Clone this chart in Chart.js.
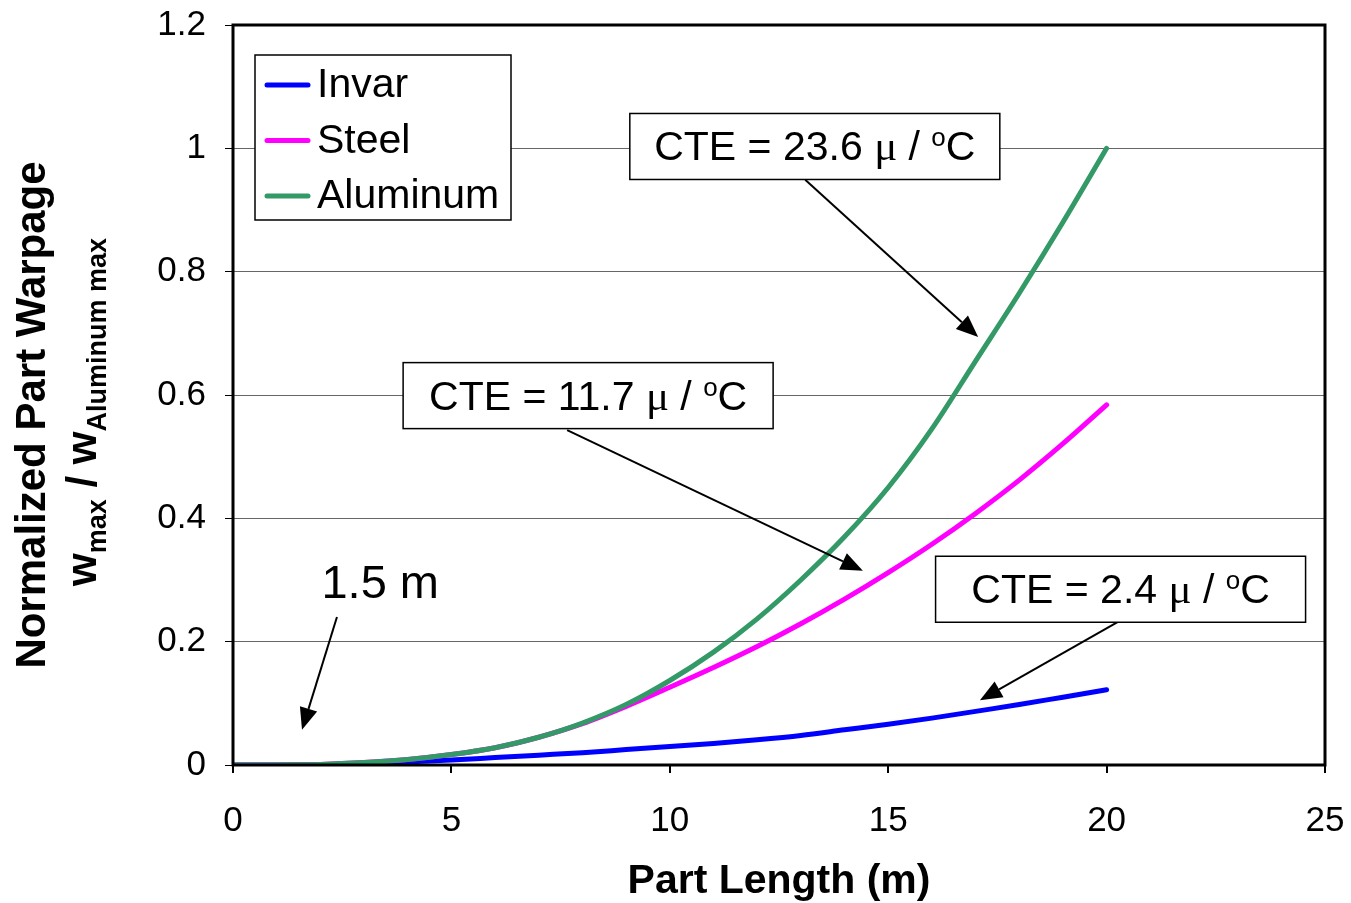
<!DOCTYPE html>
<html>
<head>
<meta charset="utf-8">
<script src="https://cdn.jsdelivr.net/npm/chart.js@4.4.1/dist/chart.umd.min.js"></script>
<style>
  html, body { margin: 0; padding: 0; background: #fff; }
  #wrap { width: 1351px; height: 903px; }
</style>
</head>
<body>
<div id="wrap"><canvas id="warpChart"></canvas></div>
<script>
// Part length (m) and normalized warpage per material
const lengths  = [0, 1, 2, 3, 4, 5, 6, 7, 8, 9, 10, 11, 12, 13, 14, 15, 16, 17, 18, 19, 20];
const invar    = [0, 0, 0.0005, 0.002, 0.005, 0.008, 0.012, 0.016, 0.020, 0.025, 0.030, 0.035, 0.041, 0.048, 0.057, 0.066, 0.076, 0.087, 0.098, 0.110, 0.122];
const steel    = [0, 0.0002, 0.001, 0.004, 0.009, 0.017, 0.028, 0.045, 0.067, 0.095, 0.126, 0.158, 0.192, 0.229, 0.269, 0.312, 0.358, 0.408, 0.462, 0.521, 0.584];
const aluminum = [0, 0.0002, 0.001, 0.004, 0.009, 0.017, 0.028, 0.045, 0.068, 0.098, 0.137, 0.183, 0.237, 0.300, 0.370, 0.450, 0.545, 0.655, 0.765, 0.880, 1.000];

const seriesNames  = ['Invar', 'Steel', 'Aluminum'];
const seriesColors = ['#0000ff', '#ff00ff', '#339966'];
const xTickValues  = [0, 5, 10, 15, 20, 25];
const yTickValues  = [0, 0.2, 0.4, 0.6, 0.8, 1.0, 1.2];

// CTE callouts: box centre, arrow tail and tip, all in data units
const callouts = [
  { cte: '23.6', box: [13.32, 1.003], from: [13.1, 0.949], to: [17.06, 0.694] },
  { cte: '11.7', box: [8.13, 0.599],  from: [7.65, 0.543], to: [14.42, 0.315] },
  { cte: '2.4',  box: [20.32, 0.285], from: [20.26, 0.232], to: [17.1, 0.105] }
];
const lengthNote = { text: '1.5 m', at: [3.37, 0.292], from: [2.38, 0.24], to: [1.58, 0.057] };

const toPoints = ys => lengths.map((x, i) => ({ x: x, y: ys[i] }));
const seriesValues = [invar, steel, aluminum];
const SANS = '"Liberation Sans", Arial';

function arrow(ctx, x1, y1, x2, y2) {
  const ang = Math.atan2(y2 - y1, x2 - x1);
  const len = 22, half = 9;
  const bx = x2 - Math.cos(ang) * len, by = y2 - Math.sin(ang) * len;
  ctx.strokeStyle = '#000';
  ctx.lineWidth = 2;
  ctx.beginPath();
  ctx.moveTo(x1, y1);
  ctx.lineTo(bx, by);
  ctx.stroke();
  ctx.fillStyle = '#000';
  ctx.beginPath();
  ctx.moveTo(x2, y2);
  ctx.lineTo(bx + Math.sin(ang) * half, by - Math.cos(ang) * half);
  ctx.lineTo(bx - Math.sin(ang) * half, by + Math.cos(ang) * half);
  ctx.closePath();
  ctx.fill();
}

// "CTE = n μ / ºC" drawn as pieces so the μ is serif and the o is raised
function cteLabel(ctx, value, cx, cy) {
  const size = 41;
  const parts = [
    { t: 'CTE = ' + value + ' ', f: size + 'px ' + SANS, dy: 0 },
    { t: '\u03bc', f: (size + 2) + 'px "Liberation Serif", "Times New Roman"', dy: 0 },
    { t: ' / ', f: size + 'px ' + SANS, dy: 0 },
    { t: 'o', f: '26px ' + SANS, dy: -14 },
    { t: 'C', f: size + 'px ' + SANS, dy: 0 }
  ];
  let total = 0;
  parts.forEach(p => { ctx.font = p.f; p.w = ctx.measureText(p.t).width; total += p.w; });
  let x = cx - total / 2;
  ctx.fillStyle = '#000';
  ctx.textAlign = 'left';
  ctx.textBaseline = 'alphabetic';
  parts.forEach(p => {
    ctx.font = p.f;
    ctx.fillText(p.t, x, cy + 14 + p.dy);
    x += p.w;
  });
}

const decor = {
  id: 'decor',
  afterDraw(chart) {
    const { ctx, chartArea: a, scales: { x, y } } = chart;
    ctx.save();

    // plot frame
    ctx.strokeStyle = '#000';
    ctx.lineWidth = 3;
    ctx.strokeRect(a.left, a.top, a.right - a.left, a.bottom - a.top);

    // legend box
    const lx = 255, ly = 55, lw = 256, lh = 165;
    ctx.fillStyle = '#fff';
    ctx.fillRect(lx, ly, lw, lh);
    ctx.strokeStyle = '#000';
    ctx.lineWidth = 1.5;
    ctx.strokeRect(lx, ly, lw, lh);
    seriesNames.forEach((name, i) => {
      const ry = ly + 30 + i * 55.5;
      ctx.strokeStyle = seriesColors[i];
      ctx.lineWidth = 5;
      ctx.lineCap = 'round';
      ctx.beginPath();
      ctx.moveTo(lx + 12, ry);
      ctx.lineTo(lx + 53, ry);
      ctx.stroke();
      ctx.fillStyle = '#000';
      ctx.font = '41px ' + SANS;
      ctx.textAlign = 'left';
      ctx.textBaseline = 'middle';
      ctx.fillText(name, lx + 62, ry + 1);
    });
    ctx.lineCap = 'butt';

    // CTE callouts
    callouts.forEach(c => {
      const cx = x.getPixelForValue(c.box[0]), cy = y.getPixelForValue(c.box[1]);
      const bw = 370, bh = 66;
      arrow(ctx, x.getPixelForValue(c.from[0]), y.getPixelForValue(c.from[1]),
                 x.getPixelForValue(c.to[0]), y.getPixelForValue(c.to[1]));
      ctx.fillStyle = '#fff';
      ctx.fillRect(cx - bw / 2, cy - bh / 2, bw, bh);
      ctx.strokeStyle = '#000';
      ctx.lineWidth = 1.5;
      ctx.strokeRect(cx - bw / 2, cy - bh / 2, bw, bh);
      cteLabel(ctx, c.cte, cx, cy);
    });

    // 1.5 m note
    ctx.fillStyle = '#000';
    ctx.font = '47px ' + SANS;
    ctx.textAlign = 'center';
    ctx.textBaseline = 'middle';
    ctx.fillText(lengthNote.text, x.getPixelForValue(lengthNote.at[0]), y.getPixelForValue(lengthNote.at[1]));
    arrow(ctx, x.getPixelForValue(lengthNote.from[0]), y.getPixelForValue(lengthNote.from[1]),
               x.getPixelForValue(lengthNote.to[0]), y.getPixelForValue(lengthNote.to[1]));

    // x axis title
    ctx.font = 'bold 41px ' + SANS;
    ctx.fillText('Part Length (m)', (a.left + a.right) / 2, 882);

    // y axis title, two lines with subscripts
    const midY = 415;
    ctx.translate(33, midY);
    ctx.rotate(-Math.PI / 2);
    ctx.font = 'bold 42px ' + SANS;
    ctx.fillText('Normalized Part Warpage', 0, 0);
    ctx.rotate(Math.PI / 2);
    ctx.translate(-33, -midY);

    ctx.translate(86, 412);
    ctx.rotate(-Math.PI / 2);
    const pieces = [
      { t: 'w', f: 'bold 42px ' + SANS, dy: 0 },
      { t: 'max', f: 'bold 27px ' + SANS, dy: 10 },
      { t: ' / w', f: 'bold 42px ' + SANS, dy: 0 },
      { t: 'Aluminum max', f: 'bold 27px ' + SANS, dy: 10 }
    ];
    let tw = 0;
    pieces.forEach(p => { ctx.font = p.f; p.w = ctx.measureText(p.t).width; tw += p.w; });
    let px = -tw / 2;
    ctx.textAlign = 'left';
    ctx.textBaseline = 'alphabetic';
    pieces.forEach(p => {
      ctx.font = p.f;
      ctx.fillText(p.t, px, 10 + p.dy);
      px += p.w;
    });
    ctx.restore();
  }
};

new Chart(document.getElementById('warpChart'), {
  type: 'line',
  data: {
    datasets: seriesNames.map((name, i) => ({
      label: name,
      data: toPoints(seriesValues[i]),
      borderColor: seriesColors[i],
      backgroundColor: seriesColors[i],
      borderWidth: 5,
      borderCapStyle: 'round',
      pointRadius: 0,
      cubicInterpolationMode: 'monotone',
      fill: false,
      order: 2 - i
    }))
  },
  options: {
    responsive: true,
    maintainAspectRatio: false,
    animation: false,
    layout: { padding: { top: 25, right: 26, left: 0, bottom: 0 } },
    scales: {
      x: {
        type: 'linear',
        min: 0,
        max: 25,
        afterBuildTicks: s => { s.ticks = xTickValues.map(v => ({ value: v })); },
        afterFit: s => { s.height = 138; s.paddingLeft = 0; s.paddingRight = 0; },
        ticks: { color: '#000', font: { size: 35, family: SANS }, padding: 27, maxRotation: 0 },
        grid: { drawOnChartArea: false, tickLength: 8, tickColor: '#000', lineWidth: 2 },
        border: { display: false }
      },
      y: {
        min: 0,
        max: 1.2,
        afterBuildTicks: s => { s.ticks = yTickValues.map(v => ({ value: v })); },
        afterFit: s => { s.width = 233; s.paddingTop = 0; s.paddingBottom = 0; },
        ticks: {
          color: '#000',
          font: { size: 35, family: SANS },
          padding: 19,
          callback: v => String(parseFloat(v.toFixed(1)))
        },
        grid: { color: '#666', lineWidth: 1, tickLength: 8, tickColor: '#000' },
        border: { display: false }
      }
    },
    plugins: {
      legend: { display: false },
      tooltip: { enabled: false }
    }
  },
  plugins: [decor]
});
</script>
</body>
</html>
